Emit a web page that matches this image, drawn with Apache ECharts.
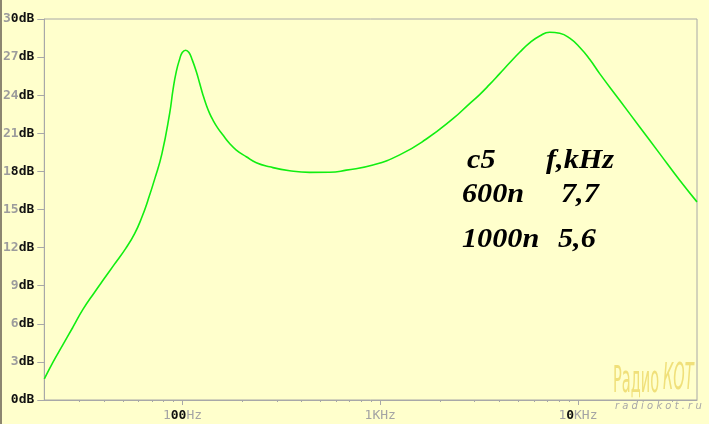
<!DOCTYPE html>
<html>
<head>
<meta charset="utf-8">
<script src="https://cdn.jsdelivr.net/npm/echarts@6/dist/echarts.min.js"></script>
<style>
html,body{margin:0;padding:0;background:#FFFFCC;}
#chart{width:709px;height:424px;}
</style>
</head>
<body>
<div id="chart"></div>
<script>
// Frequency (Hz) and gain (dB)
const freqHz = [20,22.1,24.85,27.9,31.36,35.93,40.36,44.83,51.55,57.26,62.35,66.87,72.5,78.7,
  86.1,89.5,93.0,96.7,99.7,103.7,107.8,112.0,117.4,122.1,126.9,131.9,137.1,142.6,151.1,160.2,173.1,187.1,210.2,236.2,275.9,348.3,439.7,554.9,
  674,919,1254,1711,2333,2814,3183,3576,4019,4515,5074,5697,6402,7192,8087,9083,10200,11462,12877,16255,20522,25906,32706,40000];
const gainDb = [1.66,2.97,4.36,5.73,7.13,8.49,9.60,10.60,11.92,13.10,14.41,15.73,17.45,19.4,
  22.57,24.41,25.86,26.83,27.36,27.54,27.36,26.78,25.86,24.94,24.02,23.23,22.57,22.04,21.39,20.86,20.20,19.68,19.15,18.68,18.36,18.05,17.92,17.93,
  18.1,18.5,19.3,20.55,22.15,23.3,24.05,24.85,25.7,26.55,27.38,28.12,28.66,28.96,28.88,28.49,27.78,26.83,25.7,23.6,21.5,19.4,17.3,15.6];
const xMajorTicks = [100,1000,10000];
const xMajorLabels = ['100Hz','1KHz','10KHz'];
const xMinorTicks = [30,40,50,60,70,80,90,200,300,400,500,600,700,800,900,2000,3000,4000,5000,6000,7000,8000,9000,20000,30000];
const yTickStep = 3;
const tableHeader = ['c5','f,kHz'];
const tableRows = [['600n','7,7'],['1000n','5,6']];

function pixelText(s){
  let out='';
  for(const ch of s){
    if(ch==='0'||ch==='8'||ch==='d'||ch==='B') out+='{b|'+ch+'}';
    else out+='{g|'+ch+'}';
  }
  return out;
}
const richStyles = {
  g:{color:'#9c9c9c',fontFamily:'DejaVu Sans Mono',fontSize:13,fontWeight:'bold'},
  b:{color:'#111111',fontFamily:'DejaVu Sans Mono',fontSize:13,fontWeight:'bold'}
};
const richX = {
  g:{color:'#a4a4a4',fontFamily:'DejaVu Sans Mono',fontSize:13},
  b:{color:'#111111',fontFamily:'DejaVu Sans Mono',fontSize:13,fontWeight:'bold'}
};
function pixelTextX(s){
  let out='';
  for(const ch of s){
    if(ch==='0') out+='{b|'+ch+'}';
    else out+='{g|'+ch+'}';
  }
  return out;
}

const chart = echarts.init(document.getElementById('chart'), null, {renderer:'canvas'});
const axisGray = '#a8a8a8';

const tableGraphics = [];
const colX = [[467,546],[462,561],[462,558]];
const rowY = [161,195,240];
[tableHeader].concat(tableRows).forEach((row,i)=>{
  row.forEach((txt,j)=>{
    tableGraphics.push({
      type:'text', x: colX[i][j], y: rowY[i], scaleX:1.08, z:10,
      style:{text:txt, x:0, y:0, fontFamily:'"Liberation Serif", "Times New Roman", serif', fontSize:28, fontStyle:'italic', fontWeight:'bold',
        fill:'#000', align:'left', verticalAlign:'middle'}
    });
  });
});

const option = {
  backgroundColor:'#FFFFCC',
  animation:false,
  grid:{left:44, right:12, top:19, bottom:24, show:true, borderColor:axisGray, borderWidth:1, backgroundColor:'transparent'},
  xAxis:[{
    type:'log', logBase:10, min:20, max:40000, position:'bottom',
    axisLine:{show:true, lineStyle:{color:axisGray, width:1}},
    axisTick:{show:true, inside:false, length:5, lineStyle:{color:axisGray}, customValues:xMajorTicks},
    axisLabel:{show:true, margin:9, customValues:xMajorTicks,
      formatter:(v)=>{const i=xMajorTicks.findIndex(t=>Math.abs(t-v)/t<1e-6); return i>=0?pixelTextX(xMajorLabels[i]):'';},
      rich:richX},
    splitLine:{show:false}, minorTick:{show:false}, minorSplitLine:{show:false}
  },{
    type:'log', logBase:10, min:20, max:40000, position:'bottom', gridIndex:0,
    axisLine:{show:false},
    axisTick:{show:true, inside:false, length:2, lineStyle:{color:axisGray}, customValues:xMinorTicks},
    axisLabel:{show:false},
    splitLine:{show:false}
  }],
  yAxis:{
    type:'value', min:0, max:30, interval:yTickStep,
    axisLine:{show:true, lineStyle:{color:axisGray, width:1}},
    axisTick:{show:true, inside:false, length:7, lineStyle:{color:axisGray}},
    axisLabel:{margin:10, formatter:(v)=>pixelText(v+'dB'), rich:richStyles},
    splitLine:{show:false}
  },
  series:[{
    type:'line', xAxisIndex:0, yAxisIndex:0,
    data: freqHz.map((f,i)=>[f,gainDb[i]]),
    smooth:0.5, showSymbol:false, symbol:'none',
    lineStyle:{color:'#11ee11', width:1.6},
    clip:true
  }],
  graphic:[
    {type:'rect', left:0, top:0, shape:{width:2, height:424}, style:{fill:'#8c8670'}},
    ...tableGraphics,
    {type:'text', x:613, y:364, scaleY:2.15, scaleX:0.95, style:{text:'Радио', fontFamily:'"DejaVu Sans Condensed", "DejaVu Sans", sans-serif', fontSize:17, fill:'#F0E07A', verticalAlign:'top'}},
    {type:'text', x:663, y:361, scaleY:2.2, scaleX:0.95, style:{text:'КОТ', fontFamily:'"DejaVu Sans Condensed", "DejaVu Sans", sans-serif', fontSize:17, fontStyle:'italic', fill:'#F0E07A', verticalAlign:'top'}},
    {type:'text', x:615, y:401, style:{text:'r a d i o k o t . r u', fontFamily:'"DejaVu Sans", sans-serif', fontSize:10, fontStyle:'italic', fill:'#a8a8a8', verticalAlign:'top'}}
  ]
};
chart.setOption(option);
</script>
</body>
</html>
